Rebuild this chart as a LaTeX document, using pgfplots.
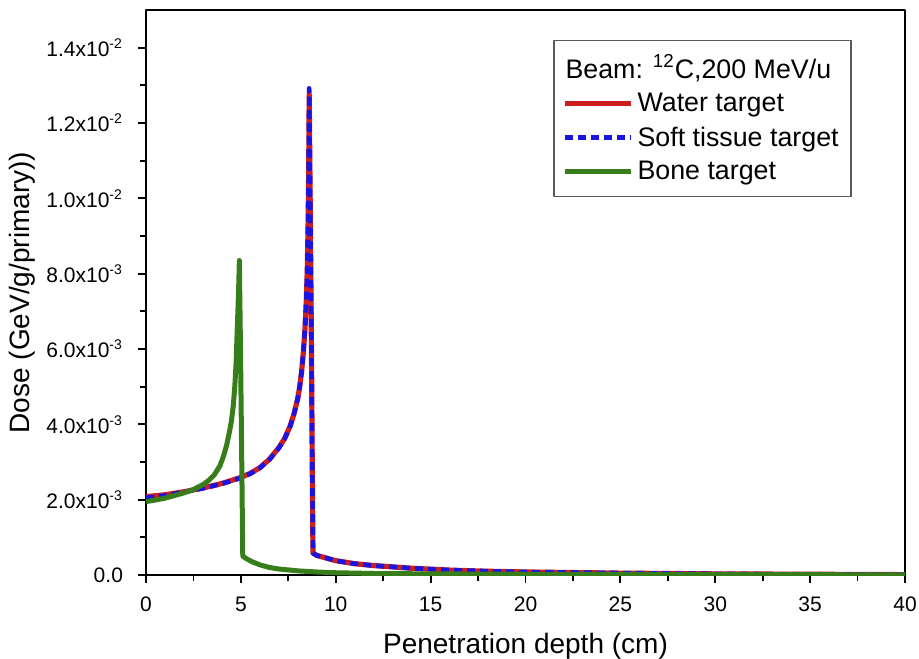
\documentclass[border=0pt]{standalone}
\usepackage{fontspec}
\setmainfont{Liberation Sans}
\usepackage{pgfplots}
\pgfplotsset{compat=1.18}

\definecolor{wred}{RGB}{205,30,30}
\definecolor{tblue}{RGB}{25,20,225}
\definecolor{bgreen}{RGB}{55,125,25}
\newcommand\sexp[1]{\textsuperscript{\fontsize{7}{8}\selectfont #1}}

\begin{document}
\begin{tikzpicture}
\path[use as bounding box] (-73pt,-41.5pt) rectangle (386.5pt,287.5pt);
\begin{axis}[
  at={(0pt,0pt)}, anchor=south west,
  scale only axis, width=379.5pt, height=282.5pt,
  xmin=0, xmax=40, ymin=0, ymax=0.015,
  xtick={0,5,10,15,20,25,30,35,40}, minor x tick num=1,
  ytick={0,0.002,0.004,0.006,0.008,0.010,0.012,0.014}, minor y tick num=1,
  yticklabels={0.0, 2.0x10\sexp{-3}, 4.0x10\sexp{-3},
    6.0x10\sexp{-3}, 8.0x10\sexp{-3}, 1.0x10\sexp{-2},
    1.2x10\sexp{-2}, 1.4x10\sexp{-2}},
  scaled y ticks=false,
  tick align=outside, xtick pos=bottom, ytick pos=left,
  major tick length=4pt, minor tick length=3pt,
  axis line style={line width=1pt},
  every tick/.style={line width=0.9pt, black},
  /pgf/number format/assume math mode=true,
  tick label style={font=\fontsize{10.5}{12}\selectfont},
  yticklabel style={xshift=-4pt},
  xticklabel style={yshift=-3.5pt},
  xlabel={Penetration depth (cm)},
  ylabel={Dose (GeV/g/primary))},
  label style={font=\fontsize{14}{16}\selectfont},
  xlabel style={at={(axis description cs:0.5,-0.126)}, anchor=center},
  ylabel style={at={(axis description cs:-0.1634,0.5)}, anchor=center, rotate=0},
  legend cell align=left,
  legend image code/.code={\draw[#1] (0pt,0pt) -- (33pt,0pt);},
  legend style={at={(0.9297,0.9469)}, anchor=north east,
    draw=gray!70!black, line width=0.6pt, inner xsep=4.2pt, inner ysep=5pt,
    font=\fontsize{13.4}{15}\selectfont, row sep=2pt},
  line join=round,
]
\addlegendimage{empty legend}
\addlegendentry{\hspace*{-36pt}Beam: \textsuperscript{12}C,200 MeV/u}

\addplot[wred, line width=2.6pt] coordinates {
  (0,0.00208)(1,0.00213)(2,0.00221)(3,0.00231)(4,0.00243)(5,0.00259)
  (5.5,0.00270)(6,0.00285)(6.5,0.00307)(7,0.00338)(7.3,0.00362)(7.6,0.00396)
  (7.8,0.00428)(8.0,0.00470)(8.1,0.00500)(8.2,0.00540)(8.3,0.00595)
  (8.38,0.00655)(8.45,0.00730)(8.5,0.00810)(8.54,0.00920)(8.57,0.01050)
  (8.59,0.01180)(8.6,0.01276)
  (8.66,0.00950)(8.72,0.00600)(8.76,0.00300)(8.8,0.00058)
  (9,0.00052)(9.5,0.00045)(10,0.00038)(11,0.00030)(12,0.00025)(14,0.00018)
  (16,0.00013)(18,0.00010)(20,0.00008)(25,0.00005)(30,0.00003)(35,0.00002)(40,0.00001)
};
\addlegendentry{Water target}

\addplot[tblue, line width=2.3pt, dash pattern=on 4pt off 2.5pt] coordinates {
  (0,0.00205)(1,0.00211)(2,0.00220)(3,0.00230)(4,0.00242)(5,0.00258)
  (5.5,0.00269)(6,0.00284)(6.5,0.00306)(7,0.00337)(7.3,0.00361)(7.6,0.00395)
  (7.8,0.00427)(8.0,0.00469)(8.1,0.00500)(8.2,0.00540)(8.3,0.00596)
  (8.38,0.00657)(8.45,0.00733)(8.5,0.00815)(8.54,0.00930)(8.57,0.01060)
  (8.59,0.01195)(8.6,0.01292)
  (8.66,0.00960)(8.72,0.00605)(8.76,0.00300)(8.8,0.00058)
  (9,0.00052)(9.5,0.00045)(10,0.00038)(11,0.00030)(12,0.00025)(14,0.00018)
  (16,0.00013)(18,0.00010)(20,0.00008)(25,0.00005)(30,0.00003)(35,0.00002)(40,0.00001)
};
\addlegendentry{Soft tissue target}

\addplot[bgreen, line width=2.5pt] coordinates {
  (0,0.00195)(0.5,0.00199)(1,0.00204)(1.5,0.00211)(2,0.00218)(2.5,0.00227)
  (3,0.00240)(3.3,0.00251)(3.6,0.00266)(3.9,0.00290)(4.1,0.00318)(4.25,0.00345)
  (4.4,0.00380)(4.5,0.00408)(4.6,0.00450)(4.68,0.00500)(4.75,0.00565)
  (4.8,0.00640)(4.85,0.00710)(4.89,0.00775)(4.92,0.00835)
  (4.98,0.00600)(5.04,0.00330)(5.1,0.00050)
  (5.3,0.00043)(5.6,0.00035)(6,0.00027)(6.5,0.00020)(7,0.00016)(8,0.00011)
  (9,0.00008)(10,0.00006)(12,0.00004)(15,0.00003)(20,0.00002)(30,0.00001)(40,0.000005)
};
\addlegendentry{Bone target}
\end{axis}
\end{tikzpicture}
\end{document}
